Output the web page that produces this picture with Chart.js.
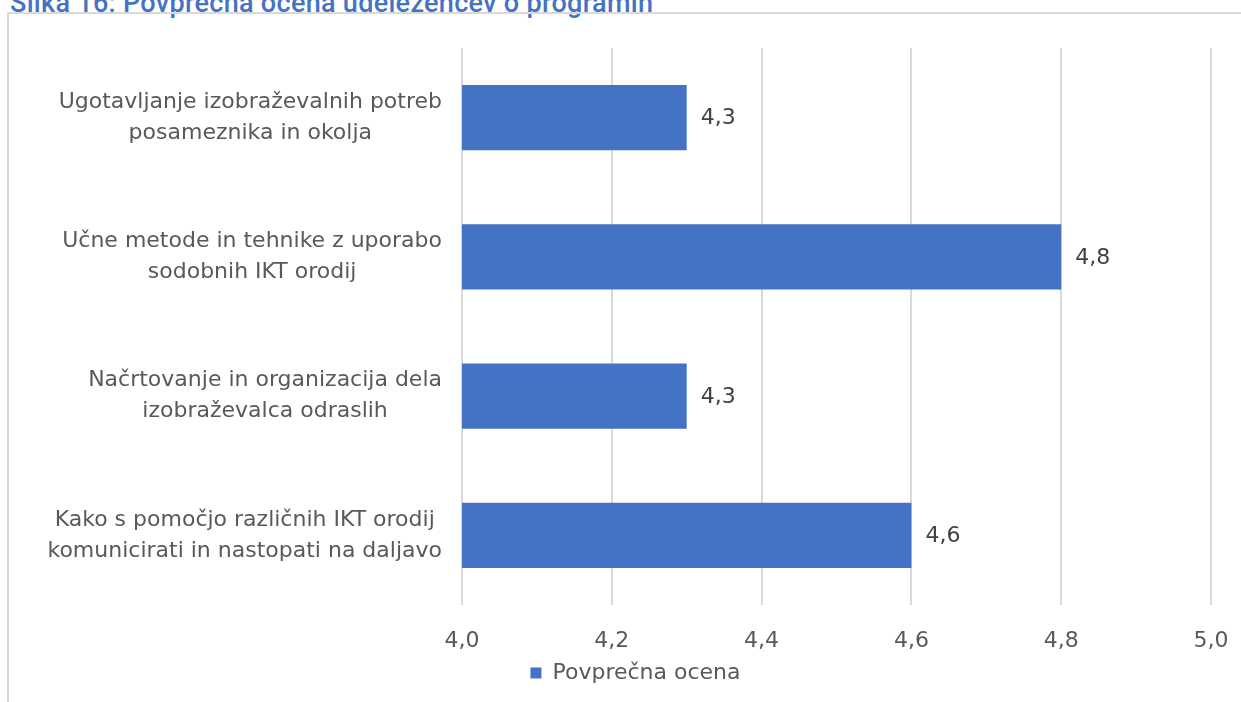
<!DOCTYPE html>
<html>
<head>
<meta charset="utf-8">
<script src="https://cdn.jsdelivr.net/npm/chart.js@4.4.1/dist/chart.umd.min.js"></script>
<style>
  html, body { margin: 0; padding: 0; background: #fff; overflow: hidden; }
  #wrap { position: relative; width: 1241px; height: 702px; }
  #title {
    position: absolute; left: 10px; top: -13px;
    font-family: Roboto, sans-serif; font-weight: 500; font-size: 27px;
    color: #4472C4; white-space: nowrap; letter-spacing: 0.3px;
  }
  #frame {
    position: absolute; left: 7px; top: 12px; right: -5px; bottom: -5px;
    border-left: 2px solid #d9d9d9; border-top: 2px solid #d9d9d9;
  }
  #box { position: absolute; left: 0; top: 0; width: 1241px; height: 702px; }
</style>
</head>
<body>
<div id="wrap">
  <div id="title">Slika 16: Povprečna ocena udeležencev o programih</div>
  <div id="frame"></div>
  <div id="box"><canvas id="chart"></canvas></div>
</div>
<script>
// data
const categories = [
  ['Ugotavljanje izobraževalnih potreb', 'posameznika in okolja'],
  ['Učne metode in tehnike z uporabo', 'sodobnih IKT orodij'],
  ['Načrtovanje in organizacija dela', 'izobraževalca odraslih'],
  ['Kako s pomočjo različnih IKT orodij', 'komunicirati in nastopati na daljavo']
];
const ocena = [4.3, 4.8, 4.3, 4.6];
const seriesName = 'Povprečna ocena';

const FONT = '"DejaVu Sans", sans-serif';
const fmt = v => v.toFixed(1).replace('.', ',');

// category labels, every line centred on its own block
const catLabels = {
  id: 'catLabels',
  afterDraw(chart) {
    const { ctx, chartArea, scales } = chart;
    const y = scales.y;
    ctx.save();
    ctx.font = '22px ' + FONT;
    ctx.fillStyle = '#595959';
    ctx.textAlign = 'center';
    ctx.textBaseline = 'middle';
    const lineH = 31;
    categories.forEach((lines, i) => {
      const cy = y.getPixelForValue(i);
      const w = Math.max(...lines.map(l => ctx.measureText(l).width));
      const cx = chartArea.left - 20 - w / 2;
      lines.forEach((l, j) => {
        ctx.fillText(l, cx, cy + (j - (lines.length - 1) / 2) * lineH);
      });
    });
    ctx.restore();
  }
};

const valueLabels = {
  id: 'valueLabels',
  afterDatasetsDraw(chart) {
    const { ctx } = chart;
    const meta = chart.getDatasetMeta(0);
    ctx.save();
    ctx.font = '22px ' + FONT;
    ctx.fillStyle = '#404040';
    ctx.textAlign = 'left';
    ctx.textBaseline = 'middle';
    meta.data.forEach((bar, i) => {
      ctx.fillText(fmt(ocena[i]), bar.x + 14, bar.y + 1);
    });
    ctx.restore();
  }
};

new Chart(document.getElementById('chart'), {
  type: 'bar',
  data: {
    labels: categories,
    datasets: [{
      label: seriesName,
      data: ocena,
      backgroundColor: '#4472C4',
      borderWidth: 0,
      categoryPercentage: 1,
      barPercentage: 0.467
    }]
  },
  options: {
    indexAxis: 'y',
    responsive: true,
    maintainAspectRatio: false,
    animation: false,
    layout: { padding: { top: 48, right: 30, bottom: 8, left: 60 } },
    plugins: {
      legend: {
        position: 'bottom',
        labels: {
          font: { family: FONT, size: 22 },
          color: '#595959',
          boxWidth: 11,
          boxHeight: 11,
          padding: 2
        }
      },
      tooltip: { enabled: false }
    },
    scales: {
      x: {
        min: 4.0,
        max: 5.0,
        border: { display: false },
        grid: { color: '#d9d9d9', lineWidth: 2, drawTicks: false },
        ticks: {
          stepSize: 0.2,
          padding: 23,
          font: { family: FONT, size: 22 },
          color: '#595959',
          callback: v => fmt(v)
        },
        afterFit(scale) {
          scale.height = 55;
          scale.paddingLeft = 0;
          scale.paddingRight = 0;
        }
      },
      y: {
        border: { display: false },
        grid: { display: false },
        ticks: { display: false },
        afterFit(scale) { scale.width = 402; }
      }
    }
  },
  plugins: [catLabels, valueLabels]
});
</script>
</body>
</html>
